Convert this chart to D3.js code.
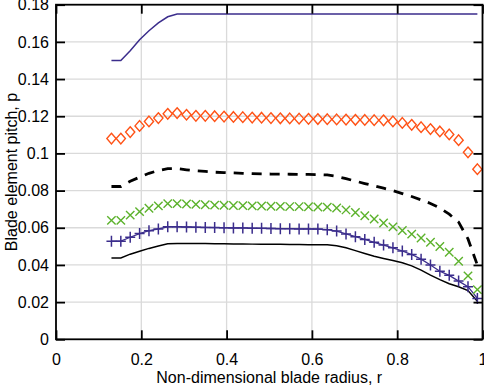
<!DOCTYPE html>
<html>
<head>
<meta charset="utf-8">
<script src="https://cdn.jsdelivr.net/npm/d3@7"></script>
<style>
  body { margin: 0; background: #fff; }
  text { font-family: "Liberation Sans", Arial, sans-serif; fill: #000; }
</style>
</head>
<body>
<svg id="chart"></svg>
<script>
// radial stations (shared by all series)
const rStations = [0.130, 0.152, 0.174, 0.196, 0.218, 0.240, 0.262, 0.284, 0.306, 0.328,
  0.350, 0.372, 0.394, 0.416, 0.438, 0.460, 0.482, 0.504, 0.526, 0.548,
  0.570, 0.592, 0.614, 0.636, 0.658, 0.680, 0.702, 0.724, 0.746, 0.768,
  0.790, 0.812, 0.834, 0.856, 0.878, 0.900, 0.922, 0.944, 0.966, 0.988];

const pitchTop = [0.150, 0.150, 0.1552, 0.1612, 0.1660, 0.1702, 0.1735, 0.1750, 0.1750, 0.1750,
  0.1750, 0.1750, 0.1750, 0.1750, 0.1750, 0.1750, 0.1750, 0.1750, 0.1750, 0.1750,
  0.1750, 0.1750, 0.1750, 0.1750, 0.1750, 0.1750, 0.1750, 0.1750, 0.1750, 0.1750,
  0.1750, 0.1750, 0.1750, 0.1750, 0.1750, 0.1750, 0.1750, 0.1750, 0.1750, 0.1750];

const pitchDiamond = [0.1080, 0.1080, 0.1115, 0.1148, 0.1172, 0.1190, 0.1213, 0.1217, 0.1208, 0.1202,
  0.1202, 0.1200, 0.1198, 0.1196, 0.1195, 0.1193, 0.1192, 0.1190, 0.1189, 0.1188,
  0.1187, 0.1186, 0.1185, 0.1184, 0.1183, 0.1182, 0.1181, 0.1180, 0.1179, 0.1178,
  0.1172, 0.1164, 0.1154, 0.1141, 0.1131, 0.1118, 0.1102, 0.1071, 0.1006, 0.0915];

const pitchDashed = [0.0822, 0.0822, 0.0850, 0.0872, 0.0893, 0.0908, 0.0918, 0.0918, 0.0912, 0.0907,
  0.0903, 0.0899, 0.0897, 0.0895, 0.0893, 0.0891, 0.0890, 0.0889, 0.0889, 0.0888,
  0.0887, 0.0887, 0.0886, 0.0884, 0.0876, 0.0864, 0.0851, 0.0838, 0.0826, 0.0813,
  0.0800, 0.0784, 0.0768, 0.0750, 0.0731, 0.0706, 0.0673, 0.0630, 0.0540, 0.0399];

const pitchCross = [0.0640, 0.0640, 0.0668, 0.0687, 0.0705, 0.0718, 0.0730, 0.0730, 0.0728, 0.0726,
  0.0724, 0.0722, 0.0721, 0.0720, 0.0719, 0.0718, 0.0717, 0.0716, 0.0715, 0.0714,
  0.0714, 0.0713, 0.0712, 0.0711, 0.0706, 0.0696, 0.0682, 0.0665, 0.0647, 0.0626,
  0.0605, 0.0585, 0.0566, 0.0545, 0.0522, 0.0499, 0.0468, 0.0420, 0.0341, 0.0267];

const pitchPlus = [0.0528, 0.0528, 0.0549, 0.0569, 0.0584, 0.0594, 0.0605, 0.0605, 0.0604, 0.0603,
  0.0602, 0.0601, 0.0600, 0.0599, 0.0599, 0.0598, 0.0597, 0.0596, 0.0595, 0.0595,
  0.0594, 0.0594, 0.0593, 0.0590, 0.0582, 0.0567, 0.0552, 0.0537, 0.0522, 0.0507,
  0.0492, 0.0475, 0.0456, 0.0431, 0.0400, 0.0366, 0.0344, 0.0313, 0.0283, 0.0220];

const pitchSolid = [0.0438, 0.0438, 0.0458, 0.0474, 0.0489, 0.0502, 0.0514, 0.0516, 0.0516, 0.0515,
  0.0515, 0.0514, 0.0514, 0.0513, 0.0513, 0.0512, 0.0512, 0.0511, 0.0511, 0.0510,
  0.0510, 0.0509, 0.0509, 0.0508, 0.0503, 0.0492, 0.0477, 0.0462, 0.0447, 0.0435,
  0.0424, 0.0412, 0.0395, 0.0372, 0.0345, 0.0321, 0.0299, 0.0283, 0.0262, 0.0205];

const xTicks = [0, 0.2, 0.4, 0.6, 0.8, 1];
const yTicks = [0, 0.02, 0.04, 0.06, 0.08, 0.1, 0.12, 0.14, 0.16, 0.18];

const width = 484;
const height = 385;
const margin = { top: 4.7, right: 1.5, bottom: 45.7, left: 56 };

const navy = "#3b2d8c";
const orange = "#ff5216";
const green = "#5cb22c";

const svg = d3.select("#chart")
  .attr("width", width)
  .attr("height", height);

const x = d3.scaleLinear().domain([0, 1]).range([margin.left, width - margin.right]);
const y = d3.scaleLinear().domain([0, 0.18]).range([height - margin.bottom, margin.top]);

// grid
svg.append("g")
  .selectAll("line.vg")
  .data(xTicks.slice(1, -1))
  .join("line")
  .attr("x1", d => x(d)).attr("x2", d => x(d))
  .attr("y1", y(0)).attr("y2", y(0.18))
  .attr("stroke", "#dadada").attr("stroke-width", 1.3);
svg.append("g")
  .selectAll("line.hg")
  .data(yTicks.slice(1, -1))
  .join("line")
  .attr("x1", x(0)).attr("x2", x(1))
  .attr("y1", d => y(d)).attr("y2", d => y(d))
  .attr("stroke", "#dadada").attr("stroke-width", 1.3);

const pts = vals => rStations.map((r, i) => [r, vals[i]]);
const line = d3.line().x(d => x(d[0])).y(d => y(d[1]));

// lines
svg.append("path").datum(pts(pitchTop)).attr("d", line)
  .attr("fill", "none").attr("stroke", navy).attr("stroke-width", 1.5);
svg.append("path").datum(pts(pitchDashed)).attr("d", line)
  .attr("fill", "none").attr("stroke", "#000").attr("stroke-width", 2.8)
  .attr("stroke-dasharray", "10,8");
svg.append("path").datum(pts(pitchSolid)).attr("d", line)
  .attr("fill", "none").attr("stroke", "#000").attr("stroke-width", 1.5);
svg.append("path").datum(pts(pitchPlus)).attr("d", line)
  .attr("fill", "none").attr("stroke", navy).attr("stroke-width", 1.3);

// markers
svg.append("g").selectAll("path")
  .data(pts(pitchDiamond))
  .join("path")
  .attr("transform", d => `translate(${x(d[0])},${y(d[1])})`)
  .attr("d", "M0,-5.3L4.6,0L0,5.3L-4.6,0Z")
  .attr("fill", "none").attr("stroke", orange).attr("stroke-width", 1.4);

svg.append("g").selectAll("path")
  .data(pts(pitchCross))
  .join("path")
  .attr("transform", d => `translate(${x(d[0])},${y(d[1])})`)
  .attr("d", "M-4.2,-4.2L4.2,4.2M-4.2,4.2L4.2,-4.2")
  .attr("fill", "none").attr("stroke", green).attr("stroke-width", 1.4);

svg.append("g").selectAll("path")
  .data(pts(pitchPlus))
  .join("path")
  .attr("transform", d => `translate(${x(d[0])},${y(d[1])})`)
  .attr("d", "M-5,0H5M0,-5.5V5.5")
  .attr("fill", "none").attr("stroke", navy).attr("stroke-width", 1.5);

// axes (ticks inward on all four sides)
const tickLen = 9;
const styleAxis = g => {
  g.select(".domain").remove();
  g.selectAll(".tick line").attr("stroke", "#000").attr("stroke-width", 1.8);
  g.selectAll(".tick text").style("font-size", "16px");
};

svg.append("g")
  .attr("transform", `translate(0,${y(0)})`)
  .call(d3.axisBottom(x).tickValues(xTicks).tickFormat(d3.format("")).tickSizeInner(-tickLen).tickSizeOuter(0).tickPadding(14))
  .call(styleAxis);
svg.append("g")
  .attr("transform", `translate(${x(0)},0)`)
  .call(d3.axisLeft(y).tickValues(yTicks).tickFormat(d3.format("")).tickSizeInner(-tickLen).tickSizeOuter(0).tickPadding(7))
  .call(styleAxis);
svg.append("g")
  .attr("transform", `translate(0,${y(0.18)})`)
  .call(d3.axisTop(x).tickValues(xTicks).tickFormat("").tickSizeInner(-tickLen).tickSizeOuter(0))
  .call(styleAxis);
svg.append("g")
  .attr("transform", `translate(${x(1)},0)`)
  .call(d3.axisRight(y).tickValues(yTicks).tickFormat("").tickSizeInner(-tickLen).tickSizeOuter(0))
  .call(styleAxis);

// frame
svg.append("rect")
  .attr("x", x(0)).attr("y", y(0.18))
  .attr("width", x(1) - x(0)).attr("height", y(0) - y(0.18))
  .attr("fill", "none").attr("stroke", "#000").attr("stroke-width", 1.8);

// axis titles
svg.append("text")
  .attr("x", (x(0) + x(1)) / 2)
  .attr("y", 383)
  .attr("text-anchor", "middle")
  .style("font-size", "16px")
  .text("Non-dimensional blade radius, r");

svg.append("text")
  .attr("transform", `translate(17,${(y(0) + y(0.18)) / 2}) rotate(-90)`)
  .attr("text-anchor", "middle")
  .style("font-size", "16px")
  .text("Blade element pitch, p");
</script>
</body>
</html>
